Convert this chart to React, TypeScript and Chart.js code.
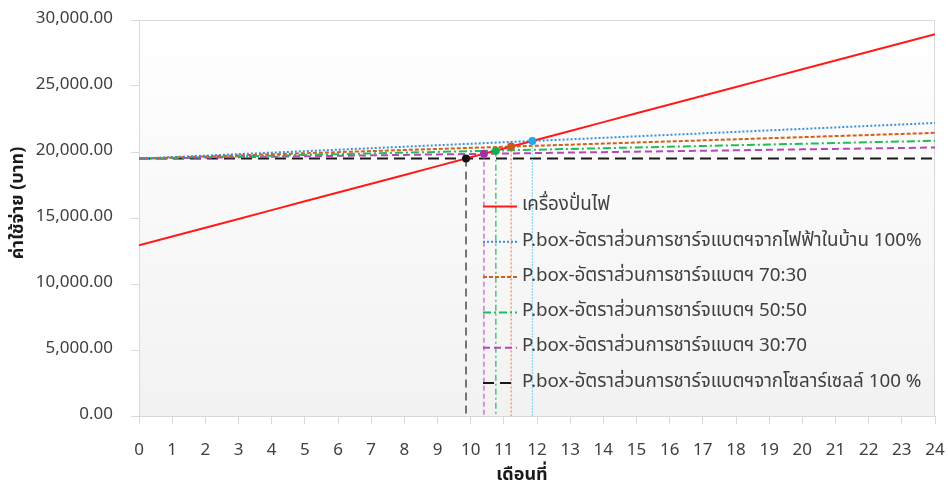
import { useEffect, useRef } from 'react';
import { Chart, registerables } from 'chart.js';

Chart.register(...registerables);

const FONT = "'Noto Sans Thai', 'Leelawadee UI', 'Noto Sans', 'DejaVu Sans', sans-serif";

// Months on the x axis
const months = [0, 1, 2, 3, 4, 5, 6, 7, 8, 9, 10, 11, 12, 13, 14, 15, 16, 17, 18, 19, 20, 21, 22, 23, 24];

// Cumulative cost (บาท) per month for each option
const generatorCost = [
  12930, 13597, 14263, 14930, 15597, 16263, 16930, 17597, 18263, 18930, 19597, 20263, 20930,
  21597, 22263, 22930, 23597, 24263, 24930, 25597, 26263, 26930, 27597, 28263, 28930,
];
const gridChargeCost = [
  19500, 19613, 19725, 19838, 19950, 20063, 20175, 20288, 20400, 20513, 20625, 20738, 20850,
  20963, 21075, 21188, 21300, 21413, 21525, 21638, 21750, 21863, 21975, 22088, 22200,
];
const ratio7030Cost = [
  19500, 19581, 19663, 19744, 19825, 19906, 19988, 20069, 20150, 20231, 20313, 20394, 20475,
  20556, 20638, 20719, 20800, 20881, 20963, 21044, 21125, 21206, 21288, 21369, 21450,
];
const ratio5050Cost = [
  19500, 19556, 19613, 19669, 19725, 19781, 19838, 19894, 19950, 20006, 20063, 20119, 20175,
  20231, 20288, 20344, 20400, 20456, 20513, 20569, 20625, 20681, 20738, 20794, 20850,
];
const ratio3070Cost = [
  19500, 19535, 19570, 19605, 19640, 19675, 19710, 19745, 19780, 19815, 19850, 19885, 19920,
  19955, 19990, 20025, 20060, 20095, 20130, 20165, 20200, 20235, 20270, 20305, 20340,
];
const solarChargeCost = [
  19500, 19500, 19500, 19500, 19500, 19500, 19500, 19500, 19500, 19500, 19500, 19500, 19500,
  19500, 19500, 19500, 19500, 19500, 19500, 19500, 19500, 19500, 19500, 19500, 19500,
];

const seriesLabels = [
  'เครื่องปั่นไฟ',
  'P.box-อัตราส่วนการชาร์จแบตฯจากไฟฟ้าในบ้าน 100%',
  'P.box-อัตราส่วนการชาร์จแบตฯ 70:30',
  'P.box-อัตราส่วนการชาร์จแบตฯ 50:50',
  'P.box-อัตราส่วนการชาร์จแบตฯ 30:70',
  'P.box-อัตราส่วนการชาร์จแบตฯจากโซลาร์เซลล์ 100 %',
];

// Break-even points where each P.box option meets the generator line
// (order: grid 100%, 70:30, 50:50, 30:70, solar 100%)
const breakEvenMonth = [11.86, 11.22, 10.76, 10.4, 9.86];
const breakEvenCost = [20840, 20410, 20100, 19860, 19500];

const yTicks = [0, 5000, 10000, 15000, 20000, 25000, 30000];

const xTitle = 'เดือนที่';
const yTitle = 'ค่าใช้จ่าย (บาท)';

const seriesStyle = [
  { color: '#FF1A1A', dash: [] as number[], width: 2 },
  { color: '#3A90E0', dash: [2, 2], width: 2 },
  { color: '#D2601A', dash: [4, 2], width: 2 },
  { color: '#1DBF55', dash: [8, 3, 2, 3], width: 2 },
  { color: '#B845B8', dash: [7, 4], width: 2 },
  { color: '#1A1A1A', dash: [11, 6], width: 2 },
];

const dropStyle = [
  { line: '#8DD6F7', dot: '#1EA8F0', dash: [2, 1] },
  { line: '#E58A48', dot: '#C9581A', dash: [2, 2] },
  { line: '#22B455', dot: '#16B04A', dash: [6, 3, 2, 3] },
  { line: '#C455C4', dot: '#A52FA5', dash: [5, 3] },
  { line: '#222222', dot: '#111111', dash: [8, 5] },
];

const seriesValues = [generatorCost, gridChargeCost, ratio7030Cost, ratio5050Cost, ratio3070Cost, solarChargeCost];

const plotFrame = {
  id: 'plotFrame',
  beforeDraw(chart: any) {
    const { ctx, chartArea: a } = chart;
    ctx.save();
    const g = ctx.createLinearGradient(0, a.top, 0, a.bottom);
    g.addColorStop(0, '#FFFFFF');
    g.addColorStop(1, '#F2F2F2');
    ctx.fillStyle = g;
    ctx.fillRect(a.left, a.top, a.right - a.left, a.bottom - a.top);
    ctx.restore();
  },
  beforeDatasetsDraw(chart: any) {
    const { ctx, chartArea: a } = chart;
    ctx.save();
    ctx.strokeStyle = '#D9D9D9';
    ctx.lineWidth = 1;
    ctx.beginPath();
    ctx.moveTo(a.left, a.top + 0.5);
    ctx.lineTo(a.right - 0.5, a.top + 0.5);
    ctx.lineTo(a.right - 0.5, a.bottom);
    ctx.stroke();
    ctx.restore();
  },
};

// Axis titles, placed slightly off-centre like the original layout
const axisTitles = {
  id: 'axisTitles',
  afterDraw(chart: any) {
    const { ctx } = chart;
    ctx.save();
    ctx.fillStyle = '#1A1A1A';
    ctx.font = `bold 18px ${FONT}`;
    ctx.textAlign = 'center';
    ctx.textBaseline = 'middle';
    ctx.fillText(xTitle, 522, 476);
    ctx.translate(19, 203);
    ctx.rotate(-Math.PI / 2);
    ctx.fillText(yTitle, 0, 0);
    ctx.restore();
  },
};

const insideLegend = {
  id: 'insideLegend',
  afterDraw(chart: any) {
    const { ctx } = chart;
    const x0 = 483;
    const x1 = 517;
    const top = 206.5;
    const step = 35.3;
    ctx.save();
    ctx.font = `18.8px ${FONT}`;
    ctx.textBaseline = 'middle';
    ctx.textAlign = 'left';
    seriesLabels.forEach((label, i) => {
      const ds = chart.data.datasets[i];
      const yRow = top + i * step;
      ctx.strokeStyle = ds.borderColor;
      ctx.lineWidth = ds.borderWidth;
      ctx.setLineDash(ds.borderDash || []);
      ctx.beginPath();
      ctx.moveTo(x0, yRow);
      ctx.lineTo(x1, yRow);
      ctx.stroke();
      ctx.setLineDash([]);
      ctx.fillStyle = '#404040';
      ctx.fillText(label, x1 + 5, yRow);
    });
    ctx.restore();
  },
};

export default function App() {
  const canvasRef = useRef<HTMLCanvasElement | null>(null);

  useEffect(() => {
    const canvas = canvasRef.current;
    if (!canvas) return;

    const lineSets = seriesLabels.map((label, i) => ({
      label,
      data: months.map((m, k) => ({ x: m, y: seriesValues[i][k] })),
      borderColor: seriesStyle[i].color,
      backgroundColor: seriesStyle[i].color,
      borderWidth: seriesStyle[i].width,
      borderDash: seriesStyle[i].dash,
      pointRadius: 0,
      tension: 0,
      order: 2 + (i === 0 ? 0 : 1),
    }));

    const dropSets = breakEvenMonth.map((m, i) => ({
      label: 'drop' + i,
      data: [
        { x: m, y: breakEvenCost[i] },
        { x: m, y: 0 },
      ],
      borderColor: dropStyle[i].line,
      borderWidth: 1.2,
      borderDash: dropStyle[i].dash,
      pointRadius: [4, 0],
      pointHoverRadius: 0,
      pointBackgroundColor: dropStyle[i].dot,
      pointBorderColor: dropStyle[i].dot,
      pointBorderWidth: 0,
      order: 0,
    }));

    const chart = new Chart(canvas, {
      type: 'line',
      data: { datasets: [...lineSets, ...dropSets] as any },
      plugins: [plotFrame, insideLegend, axisTitles],
      options: {
        responsive: false,
        animation: false,
        devicePixelRatio: 1,
        layout: { padding: { top: 20, right: 13, left: 0, bottom: 0 } },
        plugins: {
          legend: { display: false },
          tooltip: { enabled: false },
        },
        scales: {
          x: {
            type: 'linear',
            min: 0,
            max: 24,
            afterFit: (s: any) => {
              s.height = 71;
              s.paddingLeft = 0;
              s.paddingRight = 0;
            },
            ticks: {
              stepSize: 1,
              padding: 17,
              color: '#404040',
              font: { family: FONT, size: 17 },
              callback: (v: any) => String(v),
            },
            grid: {
              display: true,
              drawOnChartArea: false,
              drawTicks: true,
              tickLength: 8,
              color: '#D9D9D9',
            },
            border: { display: true, color: '#D9D9D9' },
          },
          y: {
            type: 'linear',
            min: 0,
            max: 30000,
            afterFit: (s: any) => {
              s.width = 139;
              s.paddingTop = 0;
              s.paddingBottom = 0;
            },
            afterBuildTicks: (s: any) => {
              s.ticks = yTicks.map((v) => ({ value: v }));
            },
            ticks: {
              padding: 18,
              color: '#404040',
              font: { family: FONT, size: 17 },
              callback: (v: any) =>
                Number(v).toLocaleString('en-US', { minimumFractionDigits: 2, maximumFractionDigits: 2 }),
            },
            grid: {
              display: true,
              drawOnChartArea: false,
              drawTicks: true,
              tickLength: 8,
              color: '#D9D9D9',
            },
            border: { display: true, color: '#D9D9D9' },
          },
        },
      },
    });

    return () => chart.destroy();
  }, []);

  return (
    <div style={{ position: 'fixed', left: 0, top: 0, width: 948, height: 487, background: '#FFFFFF' }}>
      <canvas ref={canvasRef} width={948} height={487} />
    </div>
  );
}
